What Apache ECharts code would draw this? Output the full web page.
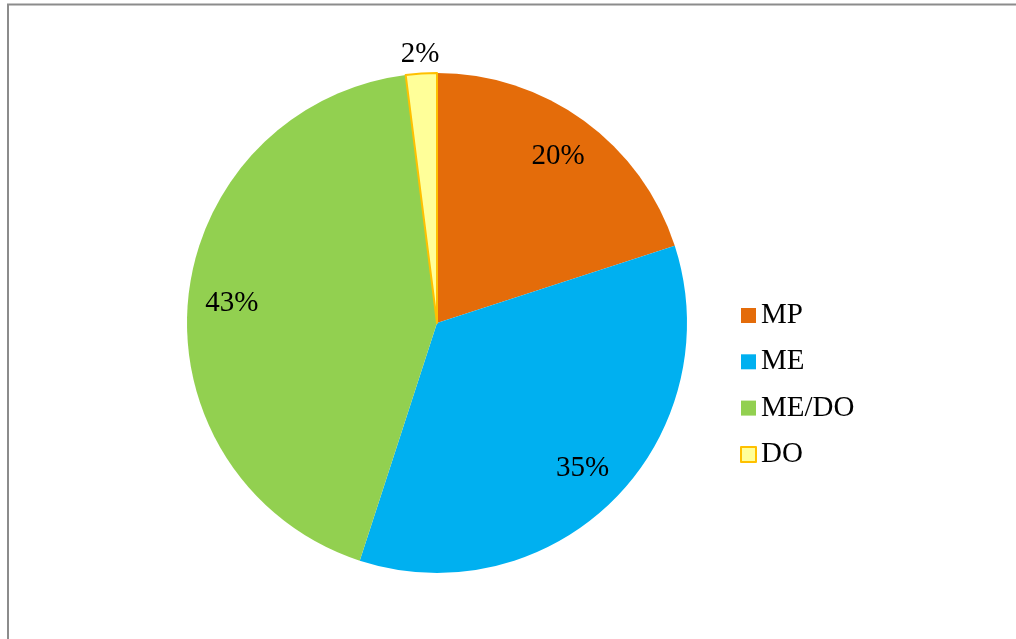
<!DOCTYPE html>
<html>
<head>
<meta charset="utf-8">
<style>
  html, body { margin: 0; padding: 0; background: #ffffff; }
  #chart { width: 1016px; height: 639px; }
</style>
<script src="https://cdn.jsdelivr.net/npm/echarts@6/dist/echarts.min.js"></script>
</head>
<body>
<div id="chart"></div>
<script>
// Category shares (percent)
const categories = ['MP', 'ME', 'ME/DO', 'DO'];
const shares = [20, 35, 43, 2];
const sliceColors = ['#E46C0A', '#00B0F0', '#92D050', '#FFFF99'];

const FONT = '"Liberation Serif", "Times New Roman", serif';
const CENTER = [437, 323];
const R = 250;

function sliceData() {
  return categories.map((name, i) => ({
    name,
    value: shares[i],
    itemStyle: name === 'DO'
      ? { color: sliceColors[i], borderColor: '#FFC000', borderWidth: 2 }
      : { color: sliceColors[i], borderWidth: 0 }
  }));
}

// Transparent rings that only carry the percentage labels
function labelRing(show) {
  return categories.map((name, i) => ({
    name,
    value: shares[i],
    itemStyle: { color: 'rgba(0,0,0,0)' },
    label: { show: show(name) }
  }));
}

const labelStyle = {
  position: 'inside',
  formatter: p => p.value + '%',
  fontFamily: FONT,
  fontSize: 29,
  color: '#000'
};

const chart = echarts.init(document.getElementById('chart'));
chart.setOption({
  animation: false,
  graphic: [{
    type: 'rect',
    shape: { x: 8, y: 4.5, width: 1100, height: 700 },
    style: { fill: 'none', stroke: '#8c8c8c', lineWidth: 2 },
    silent: true
  }],
  legend: {
    orient: 'vertical',
    left: 740,
    top: 301,
    padding: 0,
    data: categories,
    icon: 'rect',
    itemWidth: 15,
    itemHeight: 15,
    itemGap: 17.3,
    textStyle: { fontFamily: FONT, fontSize: 29, color: '#000' }
  },
  series: [
    {
      name: 'share',
      type: 'pie',
      center: CENTER,
      radius: R,
      startAngle: 90,
      clockwise: true,
      label: { show: false },
      labelLine: { show: false },
      emphasis: { disabled: true },
      data: sliceData()
    },
    {
      name: 'labels-inner',
      type: 'pie',
      center: CENTER,
      radius: [156, R],
      startAngle: 90,
      clockwise: true,
      silent: true,
      legendHoverLink: false,
      label: labelStyle,
      labelLine: { show: false },
      emphasis: { disabled: true },
      data: labelRing(n => n !== 'DO')
    },
    {
      name: 'labels-outer',
      type: 'pie',
      center: CENTER,
      radius: [R, 282],
      startAngle: 90,
      clockwise: true,
      silent: true,
      legendHoverLink: false,
      label: labelStyle,
      labelLine: { show: false },
      emphasis: { disabled: true },
      data: labelRing(n => n === 'DO')
    }
  ]
});
</script>
</body>
</html>
